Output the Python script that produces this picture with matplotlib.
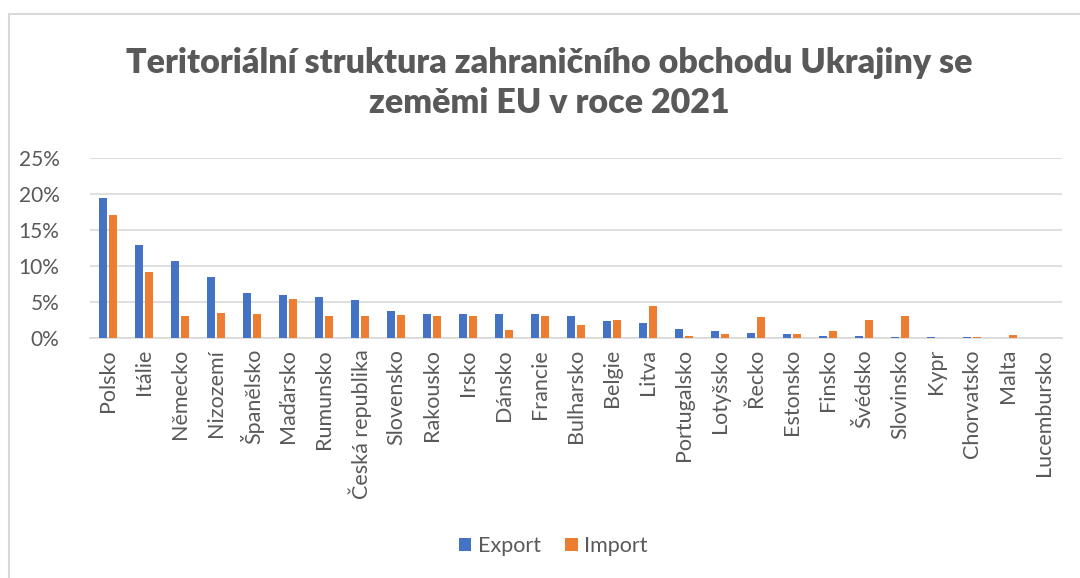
import matplotlib.pyplot as plt
import numpy as np
from matplotlib.patches import Rectangle
from matplotlib.ticker import FuncFormatter

plt.rcParams['font.family'] = ['Lato', 'DejaVu Sans']

countries = ["Polsko", "Itálie", "Německo", "Nizozemí", "Španělsko", "Maďarsko",
             "Rumunsko", "Česká republika", "Slovensko", "Rakousko", "Irsko", "Dánsko",
             "Francie", "Bulharsko", "Belgie", "Litva", "Portugalsko", "Lotyšsko",
             "Řecko", "Estonsko", "Finsko", "Švédsko", "Slovinsko", "Kypr",
             "Chorvatsko", "Malta", "Lucembursko"]
export = [19.5, 12.9, 10.7, 8.45, 6.2, 6.0, 5.75, 5.3, 3.7, 3.4, 3.4, 3.4,
          3.3, 3.1, 2.4, 2.15, 1.2, 1.0, 0.75, 0.55, 0.33, 0.33, 0.2, 0.15,
          0.15, 0.05, 0.03]
imports = [17.1, 9.2, 3.0, 3.5, 3.35, 5.4, 3.0, 3.0, 3.15, 3.0, 3.0, 1.05,
           3.0, 1.85, 2.55, 4.45, 0.3, 0.6, 2.95, 0.5, 1.0, 2.45, 3.0, 0.05,
           0.15, 0.35, 0.03]

grey = '#595959'
fig = plt.figure(figsize=(10.8, 5.78), dpi=100)
fig.patches.append(Rectangle((9 / 1080, -0.01), 1.05, 1 - 14 / 578 + 0.01,
                             transform=fig.transFigure, fill=False,
                             edgecolor='#d9d9d9', linewidth=1.5))

ax = fig.add_axes([90 / 1080, 1 - 338 / 578, 972 / 1080, 180 / 578])
x = np.arange(len(countries))
w = 0.24
ax.bar(x - 0.14, export, w, color='#4472c4', label='Export', zorder=3)
ax.bar(x + 0.14, imports, w, color='#ed7d31', label='Import', zorder=3)

ax.set_xlim(-0.5, len(countries) - 0.5)
ax.set_ylim(0, 25)
ax.set_yticks(np.arange(0, 26, 5))
ax.yaxis.set_major_formatter(FuncFormatter(lambda v, p: f"{v:.0f}%"))
ax.grid(axis='y', color='#d9d9d9', linewidth=1.2, zorder=0)
for s in ['top', 'right', 'left']:
    ax.spines[s].set_visible(False)
ax.spines['bottom'].set_color('#d9d9d9')
ax.spines['bottom'].set_linewidth(1.2)
ax.set_xticks(x)
ax.set_xticklabels(countries, rotation=90, fontsize=15.5, color=grey)
ax.tick_params(axis='both', length=0, pad=8)
ax.tick_params(axis='y', labelsize=15, labelcolor=grey, pad=22)

fig.text(549 / 1080, 1 - 83 / 578,
         "Teritoriální struktura zahraničního obchodu Ukrajiny se\nzeměmi EU v roce 2021",
         ha='center', va='center', fontsize=24.5, fontweight='heavy', color=grey,
         linespacing=1.32)

fig.legend(loc='center', bbox_to_anchor=(553 / 1080, 1 - 546 / 578), ncol=2,
           frameon=False, fontsize=15.5, labelcolor=grey, handlelength=0.6,
           handleheight=0.6, handletextpad=0.3, columnspacing=1.1)

fig.savefig('out.png', dpi=100)
